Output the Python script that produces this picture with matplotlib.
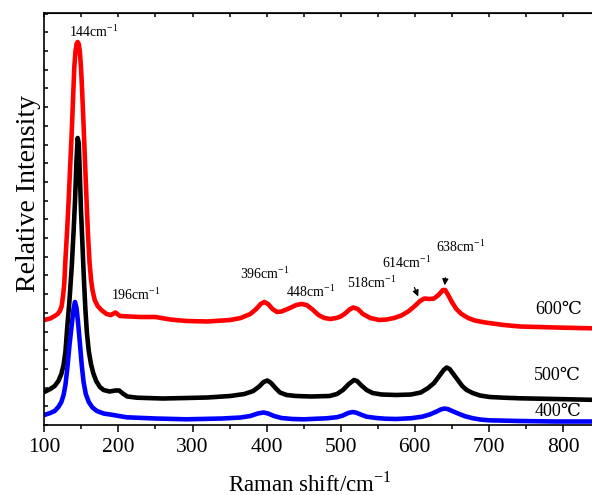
import matplotlib
matplotlib.use("Agg")
import matplotlib.pyplot as plt
from matplotlib.ticker import MultipleLocator

plt.rcParams['font.family'] = ['Liberation Serif', 'DejaVu Serif']
plt.rcParams['mathtext.fontset'] = 'custom'
plt.rcParams['mathtext.rm'] = 'Liberation Serif'

# Raman spectra (relative intensity, a.u.)
shift_600 = [100, 108, 114, 118, 121, 123.5, 125.5, 127, 128.5, 131, 133, 135, 137, 139, 140.5,
             142, 143.5, 145, 146.5, 148, 149.5, 151, 153, 155, 157, 159, 161, 163, 165, 168,
             172, 177, 184, 190, 196, 202, 215, 229, 250, 270, 292, 320,
             351, 365, 378, 386, 392, 397, 402, 408, 414, 420, 430, 440, 447, 454, 462, 470,
             478, 486, 494, 500, 506, 512, 517, 523, 530, 540, 552, 562, 572, 582, 592, 600, 607,
             613, 620, 626, 632, 638, 641, 645, 650, 656, 663, 672, 681, 695, 720, 742, 790, 850]
int_600 = [105, 106.5, 109, 111, 114, 119, 130, 142, 165, 197, 227, 260, 292, 330, 358,
           373, 381, 383, 381, 373, 358, 335, 300, 262, 225, 190, 163, 146, 135, 125,
           119, 115, 111, 110, 112.5, 109, 108.5, 108, 108, 105.5, 104, 103.5,
           105, 107, 111, 116, 121, 123, 121, 116, 113, 113.5, 116.5, 120, 121, 120, 115.5, 110,
           107, 106, 107, 108.5, 111.5, 115.5, 117.5, 116, 111, 107, 105, 105.5, 107, 109.5, 114, 119, 124,
           126.5, 126, 126.5, 130, 135, 135, 130, 123, 116, 111, 107, 104.5, 102.5, 100, 98.5, 97.5, 96.5]

shift_500 = [100, 108, 114, 119, 123, 126, 128.5, 131, 134, 137, 139.5, 141.5, 143.5, 145,
             146.5, 148, 149.5, 151.5, 153.5, 155.5, 157.5, 160, 163, 166, 170, 175, 180, 188,
             196, 201, 206, 212, 225, 260, 292, 320,
             351, 370, 382, 390, 396, 401, 406, 412, 418, 427, 440, 460, 485, 495, 503, 511,
             518, 522, 528, 535, 543, 555, 575, 595, 608, 618, 626, 633, 639, 643, 647, 652,
             658, 664, 670, 678, 688, 701, 720, 742, 790, 850]
int_500 = [33, 36, 39, 44, 51, 60, 73, 98, 125, 158, 193, 225, 265, 287,
           282, 250, 215, 180, 145, 115, 92, 74, 61, 52, 44, 38, 35, 33.5,
           34.5, 34.5, 31.5, 28.5, 27.3, 26.5, 27, 27.5,
           29, 31, 34, 38.5, 43, 44.5, 42, 37, 32.5, 30, 29, 28.5, 29, 31, 35, 41,
           45, 44, 39.5, 35, 32, 30.5, 30, 30.5, 32.5, 37, 42, 49, 55, 57.5, 56, 51,
           45, 39, 35, 32, 29.5, 28, 27.3, 26.7, 26, 25]

shift_400 = [100, 108, 114, 119, 123, 126, 128.5, 131, 134, 137, 139.5, 141.4, 143.5, 145.5,
             148, 150.5, 153, 156, 160, 165, 171, 180, 193, 211, 250, 292,
             340, 365, 378, 388, 396, 402, 410, 420, 435, 450, 481, 495, 503, 510, 516, 521,
             527, 535, 548, 560, 575, 595, 610, 620, 628, 635, 640, 645, 652, 660, 668, 678,
             688, 700, 742, 790, 850]
int_400 = [10, 12, 14, 18, 23, 30, 40, 56, 80, 100, 116, 123, 117, 103,
           82, 60, 43, 31, 23, 17.5, 14, 11.5, 10, 7.7, 6.5, 5.7,
           6.5, 7.5, 9, 11.5, 12.5, 11.5, 9, 7, 6, 5.7, 6.7, 7.8, 9.5, 12, 13, 12.3,
           10.5, 8.3, 7, 6.3, 6, 6.8, 8.3, 10.5, 13, 15.5, 16.5, 15.8, 13.5, 11, 8.7, 6.8,
           5.5, 4.7, 4, 3.5, 3.5]

peak_labels = ['144', '196', '396', '448', '518', '614', '638']
peak_label_x = [167, 223, 398, 460, 542, 589, 662]
peak_label_y = [393, 130, 151, 133, 142, 162, 178]

temp_labels = ['600℃', '500℃', '400℃']
temp_label_x = [794, 792, 794]
temp_label_y = [115, 50, 13]

fig = plt.figure(figsize=(5.92, 4.95), dpi=100)
ax = fig.add_axes([44.3 / 592, 70 / 495, (600 - 44.3) / 592, 412 / 495])

lw = 3.3
ax.plot(shift_600, int_600, color='#ff0000', lw=lw, solid_joinstyle='round', solid_capstyle='round')
ax.plot(shift_500, int_500, color='black', lw=lw, solid_joinstyle='round', solid_capstyle='round')
ax.plot(shift_400, int_400, color='#0000ff', lw=lw, solid_joinstyle='round', solid_capstyle='round')

for lab, x, y in zip(peak_labels, peak_label_x, peak_label_y):
    ax.text(x, y, lab + r'cm$^{\mathrm{-1}}$', ha='center', va='center', fontsize=10)

for lab, x, y in zip(temp_labels, temp_label_x, temp_label_y):
    ax.text(x, y, lab, ha='center', va='center', fontsize=13)

arrow = dict(arrowstyle='-|>', color='black', lw=0.9, mutation_scale=9)
ax.annotate('', xy=(606, 126), xytext=(598, 140), arrowprops=arrow)
ax.annotate('', xy=(640, 137), xytext=(641.7, 150), arrowprops=arrow)

ax.set_xlim(100, 100 + (600 - 44.3) / 0.741)
ax.set_ylim(0, 412)
ax.spines['right'].set_visible(False)
for s in ['left', 'top', 'bottom']:
    ax.spines[s].set_linewidth(1.2)

ax.set_xticks([100, 200, 300, 400, 500, 600, 700, 800])
ax.xaxis.set_minor_locator(MultipleLocator(50))
ax.tick_params(axis='x', which='major', direction='out', length=5, width=1.1, labelsize=15.5, pad=4)
ax.tick_params(axis='x', which='minor', direction='out', length=3, width=1.1)
ax.yaxis.set_major_locator(MultipleLocator(18.7))
ax.tick_params(axis='y', which='major', direction='in', length=3, width=1.1, labelleft=False)

# inward ticks on the top edge
top = ax.secondary_xaxis('top')
top.set_xticks(range(100, 851, 50))
top.tick_params(direction='in', length=3, width=1.1, labeltop=False)

ax.set_xlabel(r'Raman shift/cm$^{\mathrm{-1}}$', fontsize=16.5)
ax.xaxis.set_label_coords(0.478, -0.113)
ax.set_ylabel('Relative Intensity', fontsize=20)
ax.yaxis.set_label_coords(-0.006, 0.563)

fig.savefig('out.png', dpi=100)
